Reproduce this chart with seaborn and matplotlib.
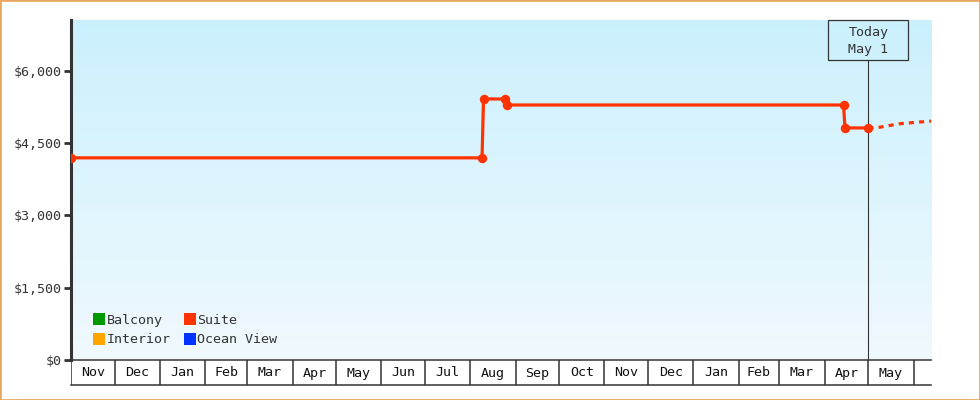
import pandas as pd
import matplotlib
matplotlib.use("Agg")
import matplotlib.pyplot as plt
import matplotlib.dates as mdates
import matplotlib.transforms as mtransforms
from matplotlib.lines import Line2D
from matplotlib.patches import Rectangle
import numpy as np
import seaborn as sns

# price history of the Suite cabin (other cabin types have no data, legend only)
suite_dates = ["2023-11-01", "2024-08-09", "2024-08-10", "2024-08-25",
               "2024-08-26", "2025-04-14", "2025-04-15", "2025-05-01"]
suite_prices = [4190, 4190, 5410, 5410, 5285, 5285, 4810, 4810]

# projected prices after today
forecast_dates = ["2025-05-01", "2025-05-09", "2025-05-22", "2025-06-04", "2025-06-13"]
forecast_prices = [4810, 4825, 4895, 4930, 4950]

cabin_types = ["Balcony", "Interior", "Suite", "Ocean View"]
cabin_colors = ["#009900", "#ffa500", "#ff3300", "#0033ff"]

y_ticks = [0, 1500, 3000, 4500, 6000]
today = "2025-05-01"
today_label = "Today\nMay 1"
x_start, x_end = "2023-11-01", "2025-06-13"

sns.set_theme(style="white")
plt.rcParams["font.family"] = ["DejaVu Sans Mono", "DejaVu Sans"]
dark = "#333333"
fs = 9.6

suite = pd.DataFrame({"date": pd.to_datetime(suite_dates), "price": suite_prices})
forecast = pd.DataFrame({"date": pd.to_datetime(forecast_dates), "price": forecast_prices})

fig = plt.figure(figsize=(9.8, 4), dpi=100)
ax = fig.add_axes([71 / 980, 40 / 400, 860 / 980, 340 / 400])

# gradient background
grad = np.linspace(0, 1, 256).reshape(-1, 1)
top = np.array([203, 240, 253]) / 255
bottom = np.array([240, 249, 254]) / 255
img = top + (bottom - top) * grad[..., None]
ax.imshow(img, extent=[0, 1, 0, 1], transform=ax.transAxes, aspect="auto", zorder=0)

sns.lineplot(data=suite, x="date", y="price", ax=ax, color="#ff3300", lw=2.3,
             marker="o", markersize=6.8, markeredgewidth=0, zorder=3)
sns.lineplot(data=forecast, x="date", y="price", ax=ax, color="#ff3300", lw=2.3,
             linestyle=(0, (1.6, 1.6)), zorder=3)

x0, x1 = mdates.date2num(pd.Timestamp(x_start)), mdates.date2num(pd.Timestamp(x_end))
ax.set_xlim(x0, x1)
ax.set_ylim(0, 7047)

ax.set_yticks(y_ticks)
ax.set_yticklabels([f"${v:,}" for v in y_ticks])
ax.tick_params(axis="y", length=5, width=2, color=dark, labelsize=fs, labelcolor=dark, pad=2, left=True)
ax.set_xticks([])
ax.set_xlabel("")
ax.set_ylabel("")
for side in ["top", "right"]:
    ax.spines[side].set_visible(False)
ax.spines["left"].set_linewidth(2.2)
ax.spines["left"].set_color(dark)
ax.spines["bottom"].set_linewidth(1.1)
ax.spines["bottom"].set_color(dark)

# today marker
t = mdates.date2num(pd.Timestamp(today))
box_h = 40 / 340
ax.axvline(t, ymin=0, ymax=1 - box_h, color=dark, lw=0.8, zorder=2)
blend = mtransforms.blended_transform_factory(ax.transData, ax.transAxes)
half_w = 40 / (860 / (x1 - x0))
ax.add_patch(Rectangle((t - half_w, 1 - box_h), 2 * half_w, box_h, transform=blend,
                       fill=False, edgecolor=dark, lw=0.9, clip_on=False, zorder=4))
ax.text(t, 1 - box_h / 2 - 0.004, today_label, transform=blend, ha="center", va="center",
        fontsize=fs, color=dark, linespacing=1.4, zorder=4)

# legend
handles = [Line2D([], [], marker="s", linestyle="", markersize=8, color=c, markeredgewidth=0)
           for c in cabin_colors]
ax.legend(handles, cabin_types, loc="lower left", bbox_to_anchor=(0.026, 0.04), ncol=2,
          frameon=False, fontsize=fs, handlelength=0.85, handletextpad=0.15,
          columnspacing=1.0, labelspacing=0.5, borderpad=0, borderaxespad=0,
          labelcolor=dark)

# month strip below the axis
strip = fig.add_axes([71 / 980, 15 / 400, 860 / 980, 25 / 400], sharex=ax)
strip.set_ylim(0, 1)
strip.set_facecolor("none")
for side in ["top", "left", "right"]:
    strip.spines[side].set_visible(False)
strip.spines["bottom"].set_linewidth(1.1)
strip.spines["bottom"].set_color(dark)
strip.set_yticks([])
strip.tick_params(axis="x", bottom=False, labelbottom=False)
months = pd.date_range(x_start, x_end, freq="MS")
for m in months:
    mn = mdates.date2num(m)
    strip.axvline(mn, color=dark, lw=1.1)
    end = mdates.date2num(m + pd.offsets.MonthBegin(1))
    if end <= x1:
        strip.text((mn + end) / 2, 0.48, m.strftime("%b"), ha="center", va="center",
                   fontsize=fs, color="#111111")
strip.set_xlim(x0, x1)

fig.add_artist(Rectangle((0, 0), 1, 1, transform=fig.transFigure, fill=False,
                         edgecolor="#e8a860", lw=2))

fig.savefig("out.png", dpi=100)
